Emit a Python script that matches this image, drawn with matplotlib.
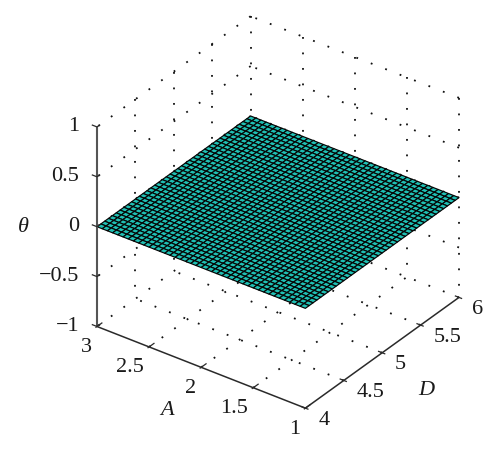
import numpy as np
import matplotlib
matplotlib.use("Agg")
import matplotlib.pyplot as plt
from mpl_toolkits.mplot3d import proj3d

W, H = 500, 452
SERIF = ["Liberation Serif", "DejaVu Serif"]

# ---- data ----
a_ticks = [3, 2.5, 2, 1.5, 1]
a_labels = ["3", "2.5", "2", "1.5", "1"]
d_ticks = [4, 4.5, 5, 5.5, 6]
d_labels = ["4", "4.5", "5", "5.5", "6"]
z_ticks = [1, 0.5, 0, -0.5, -1]
z_labels = ["1", "0.5", "0", "\u22120.5", "\u22121"]
mesh_cells = 40
theta_level = 0.0

INK = "#2a2a2a"
TEAL = "#1fc0b4"
DOT = (0, (1, 7.58))

fig = plt.figure(figsize=(W / 100, H / 100), dpi=100)
ax = fig.add_axes([0.1, 0.05, 400 / W, 400 / H], projection="3d",
                  computed_zorder=False, proj_type="ortho")
ax.set_box_aspect((1, 1, 0.91))
ax.view_init(elev=32.1, azim=-143.6)
ax.set_xlim(4, 6)
ax.set_ylim(1, 3)
ax.set_zlim(-1, 1)
ax.set_axis_off()
ax.patch.set_alpha(0)


def to_2d(d, a, z):
    x2, y2, _ = proj3d.proj_transform(d, a, z, ax.get_proj())
    return x2, y2


# Fit the axes box to the reference's box (layout only).
ax.apply_aspect()
frac = lambda d, a, z: ax.transAxes.inverted().transform(ax.transData.transform(to_2d(d, a, z)))
left = frac(4, 3, -1)
right = frac(6, 1, -1)
bottom = frac(4, 3, -1)
S = (459 - 97) / (right[0] - left[0])
x0 = 97 - left[0] * S
y0 = (H - 327.5) - bottom[1] * S
ax.set_position([x0 / W, y0 / H, S / W, S / H])
ax.apply_aspect()


def dotted(ds, as_, zs):
    ax.plot(ds, as_, zs, color="#111111", lw=1.3, linestyle=DOT, zorder=1,
            dash_capstyle="butt")


# Back walls: verticals run downward from the top, horizontals start at the outer corners
for d in d_ticks[1:]:
    dotted([d, d], [3, 3], [1, -1])
for a in a_ticks[1:]:
    dotted([6, 6], [a, a], [1, -1])
for z in z_ticks:
    dotted([6, 6], [1, 3], [z, z])
    dotted([6, 4], [3, 3], [z, z])
# Floor: lines start at the front axes
for d in d_ticks[1:-1]:
    dotted([d, d], [1, 3], [-1, -1])
for a in a_ticks[1:-1]:
    dotted([4, 6], [a, a], [-1, -1])

# Surface
D, A = np.meshgrid(np.linspace(4, 6, mesh_cells + 1), np.linspace(1, 3, mesh_cells + 1))
Z = np.full_like(D, theta_level)
ax.plot_surface(D, A, Z, rstride=1, cstride=1, color=TEAL, edgecolor="#050505",
                linewidth=0.85, shade=False, antialiased=True, zorder=3)


def solid(ds, as_, zs, lw=1.1, color=INK):
    ax.plot(ds, as_, zs, color=color, lw=lw, zorder=5, solid_capstyle="butt")


# Axes lines
solid([4, 4], [3, 3], [-1, 1], lw=1.5, color="#555555")
solid([4, 4], [3, 1], [-1, -1])
solid([4, 6], [1, 1], [-1, -1])

# Ticks
for z in z_ticks:
    solid([4, 4], [3, 3.05], [z, z], lw=0.9)
    solid([4, 4.04], [3, 3], [z, z], lw=0.9)
for a in a_ticks:
    solid([3.98, 4.07], [a, a], [-1, -1], lw=0.9)
for d in d_ticks:
    solid([d, d], [0.97, 1.04], [-1, -1], lw=0.9)


def label(pt, text, off, ha, style="normal"):
    ax.annotate(text, xy=to_2d(*pt), xycoords="data", xytext=off,
                textcoords="offset pixels", ha=ha, va="center", fontsize=16,
                family=SERIF, style=style, color="#1a1a1a", zorder=10,
                annotation_clip=False)


for z, t in zip(z_ticks, z_labels):
    label((4, 3, z), t, (-18, 1), "right")
for a, t in zip(a_ticks, a_labels):
    label((4, a, -1), t, (-5, -20), "right")
for d, t in zip(d_ticks, d_labels):
    label((d, 1, -1), t, (13, -11), "left")

label((4, 3, 0), "\u03b8", (-74, 0), "center", style="italic")
label((4, 2, -1), "A", (-34, -42), "center", style="italic")
label((5, 1, -1), "D", (44, -37), "center", style="italic")

fig.savefig("out.png", dpi=100)
